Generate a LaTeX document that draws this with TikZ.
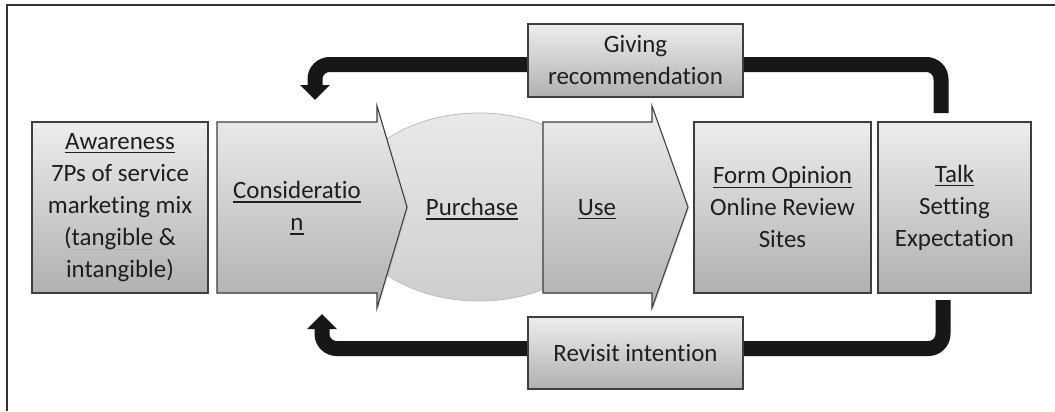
\documentclass[tikz,border=0pt]{standalone}
\usepackage{fontspec}
\setmainfont{Carlito}[Ligatures=CommonOff]
\usetikzlibrary{shapes.geometric,arrows.meta,shadows}

\definecolor{boxtop}{RGB}{237,237,238}
\definecolor{boxbot}{RGB}{176,176,178}
\definecolor{edge}{RGB}{62,62,62}
\definecolor{ink}{RGB}{30,30,30}
\definecolor{loopc}{RGB}{24,22,23}
\definecolor{ovtop}{RGB}{233,233,235}
\definecolor{ovbot}{RGB}{206,206,208}
\definecolor{ovedge}{RGB}{188,188,188}

% underline at a fixed depth
\newcommand\uln[1]{\setbox0\hbox{#1}\rlap{\rule[-2.8pt]{\wd0}{0.8pt}}\box0{}}
% dotted spelling mark under a word
\newcommand\squig[1]{\setbox0\hbox{#1}\rlap{\raisebox{-3.6pt}{\color{gray!70}\hbox to \wd0{\leaders\hbox to 1.4pt{\hss\rule{0.7pt}{0.6pt}\hss}\hfill}}}\box0{}}

\tikzset{
  txt/.style={align=center, font=\fontsize{18.7}{24}\selectfont, text=ink, inner sep=0pt},
  card/.style={txt, draw=edge, line width=0.8pt, top color=boxtop, bottom color=boxbot,
    drop shadow={shadow xshift=0.8pt, shadow yshift=-0.8pt, opacity=0.3}},
  chevron/.style={draw=edge, line width=0.8pt, top color=boxtop, bottom color=boxbot,
    drop shadow={shadow xshift=0.8pt, shadow yshift=-0.8pt, opacity=0.3}},
  feedback/.style={draw=loopc, line width=11.25pt, rounded corners=11pt,
    -{Triangle[width=21.75pt,length=11.25pt]}},
}

\begin{document}
\begin{tikzpicture}[x=0.75pt,y=-0.75pt]
\useasboundingbox (0,0) rectangle (1055,411);

% frame
\draw[black!80, line width=1.5pt] (7,411) -- (7,5) -- (1055,5);

% purchase oval sits behind the two chevrons
\node[ellipse, draw=ovedge, line width=0.6pt, top color=ovtop, bottom color=ovbot,
      minimum width=200pt, minimum height=141pt, inner sep=0pt] (pu) at (479,207) {};

% chevrons
\path[chevron] (217,122) -- (377,122) -- (377,106) -- (407,207) -- (377,308)
  -- (377,293) -- (217,293) -- cycle;
\path[chevron] (543,122) -- (652,122) -- (652,106) -- (688,207) -- (652,308)
  -- (652,293) -- (543,293) -- cycle;

\node[txt] (co) at (297,208) {\uln{Consideratio}\\\uln{n}};
\node[txt] (put) at (472,209) {\uln{Purchase}};
\node[txt] (us) at (597,209) {\uln{Use}};

% stage boxes
\node[card, minimum width=132pt, minimum height=128.25pt] (aw) at (120,207.5)
  {\uln{Awareness}\\7Ps of service\\marketing mix\\(\squig{tangible} \&\\intangible)};
\node[card, minimum width=132.75pt, minimum height=128.25pt] (fo) at (782.5,207.5)
  {\uln{Form Opinion}\\Online Review\\Sites};
\node[card, minimum width=114.75pt, minimum height=128.25pt] (ta) at (954.5,207.5)
  {\uln{Talk}\\Setting\\Expectation};

% feedback loops
\coordinate (topstart) at (941,113);
\coordinate (topend) at (315,100);
\coordinate (botstart) at (943,300);
\coordinate (botend) at (322,314);
\draw[feedback] (topstart) -- (941,64.5) -- (315,64.5) -- (topend);
\draw[feedback] (botstart) -- (943,348.5) -- (322,348.5) -- (botend);

% labels on top of the loops
\node[card, minimum width=161.25pt, minimum height=54.75pt] (gr) at (635.5,60.5)
  {Giving\\recommendation};
\node[card, minimum width=161.25pt, minimum height=54pt] (ri) at (635.5,353)
  {Revisit intention};
\end{tikzpicture}
\end{document}
